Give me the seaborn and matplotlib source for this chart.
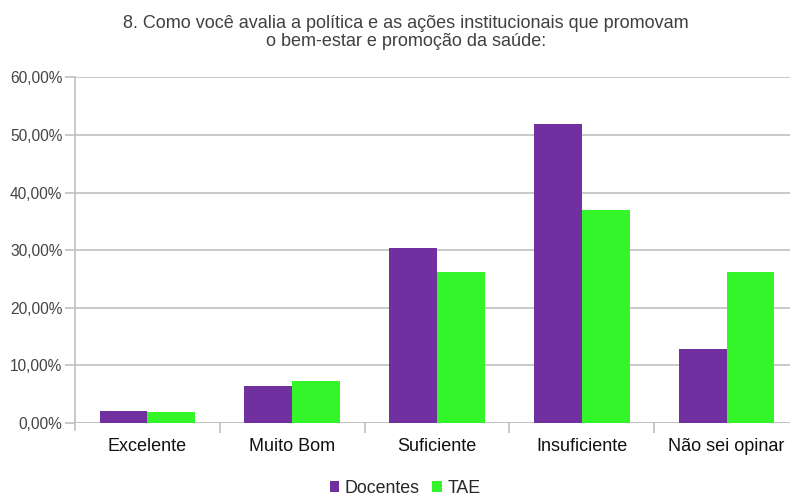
import matplotlib
matplotlib.use("Agg")
import matplotlib.pyplot as plt
from matplotlib.ticker import FuncFormatter, FixedLocator
import seaborn as sns
import pandas as pd

categories = ["Excelente", "Muito Bom", "Suficiente", "Insuficiente", "Não sei opinar"]
docentes = [2.08, 6.38, 30.3, 51.95, 12.9]
tae = [1.9, 7.3, 26.2, 37.0, 26.2]
series = ["Docentes", "TAE"]
colors = {"Docentes": "#7030A0", "TAE": "#33F52A"}
title_lines = ["8. Como você avalia a política e as ações institucionais que promovam",
               "o bem-estar e promoção da saúde:"]

df = pd.DataFrame({
    "categoria": categories * 2,
    "valor": docentes + tae,
    "grupo": [series[0]] * len(categories) + [series[1]] * len(categories),
})

sns.set_theme(style="white")
plt.rcParams["font.family"] = ["Liberation Sans", "DejaVu Sans"]

W, H = 790, 498
fig = plt.figure(figsize=(W / 100, H / 100), dpi=100)
ax = fig.add_axes([75 / W, 75 / H, 724 / W, 345.7 / H])

sns.barplot(data=df, x="categoria", y="valor", hue="grupo", order=categories,
            hue_order=series, palette=colors, width=0.66, saturation=1,
            linewidth=0, ax=ax, legend=True)

grid_col = "#c0c0c0"
ax.set_ylim(0, 60)
ax.set_xlim(-0.5, len(categories) - 0.5)
ax.set_yticks(range(0, 61, 10))
ax.yaxis.set_major_formatter(FuncFormatter(lambda v, p: f"{v:.2f}%".replace(".", ",")))
ax.grid(axis="y", color=grid_col, linewidth=1.2)
ax.set_axisbelow(True)

for s in ["top", "right", "bottom"]:
    ax.spines[s].set_visible(False)
ax.spines["left"].set_color(grid_col)
ax.spines["left"].set_linewidth(1.2)
ax.spines["left"].set_bounds(-1.2, 60)
ax.spines["left"].set_clip_on(False)
ax.axhline(0, color=grid_col, linewidth=1.2, zorder=0)

ax.tick_params(axis="y", which="major", length=7, width=1.2, color=grid_col,
               labelsize=11.2, labelcolor="#444444", pad=2, left=True)
ax.tick_params(axis="x", which="major", length=0, labelsize=13, labelcolor="#111111", pad=11)
ax.xaxis.set_minor_locator(FixedLocator([0.5, 1.5, 2.5, 3.5]))
ax.tick_params(axis="x", which="minor", length=7, width=1.2, color=grid_col, bottom=True)

ax.set_xlabel("")
ax.set_ylabel("")

# Two-line centered title
for line, yc in zip(title_lines, [23, 42]):
    fig.text(406 / W, 1 - yc / H, line, ha="center", va="center", fontsize=13,
             color="#404040")

handles, labels = ax.get_legend_handles_labels()
ax.get_legend().remove()
fig.legend(handles, labels, loc="center", bbox_to_anchor=(405 / W, 9.5 / H), ncol=2,
           frameon=False, fontsize=12.8, handlelength=0.55, handleheight=0.55,
           handletextpad=0.3, columnspacing=0.7, borderpad=0, borderaxespad=0)

fig.savefig("out.png", dpi=100)
